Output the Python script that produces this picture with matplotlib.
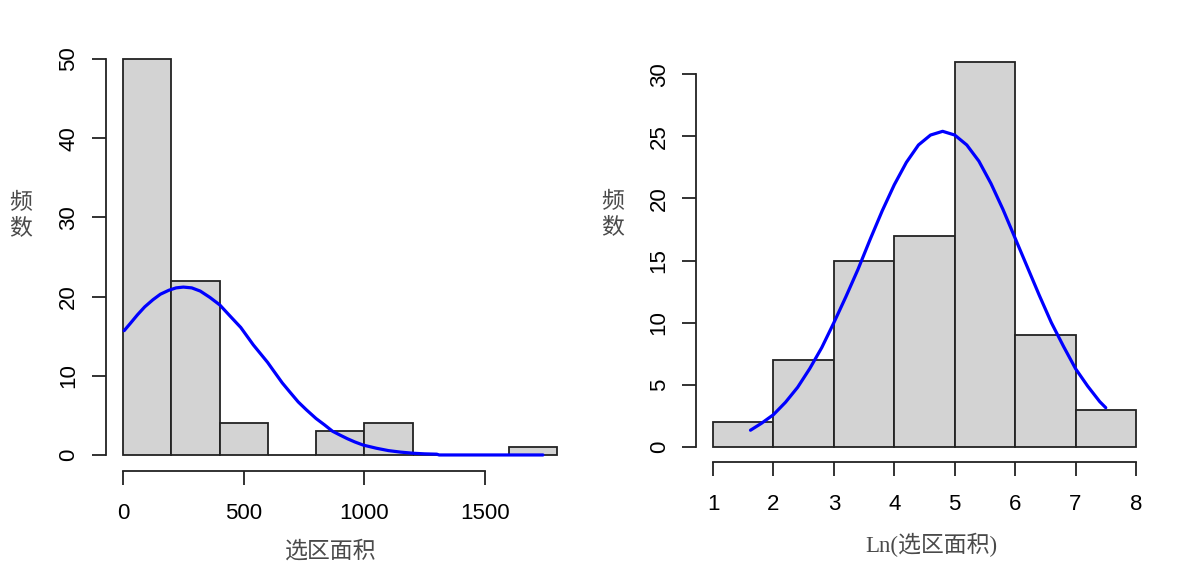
import matplotlib
matplotlib.use("Agg")
import matplotlib.pyplot as plt

plt.rcParams["font.family"] = ["Liberation Sans", "Noto Sans CJK SC"]

# --- left panel: raw area histogram ---
area_edges = [0, 200, 400, 600, 800, 1000, 1200, 1400, 1600, 1800]
area_counts = [50, 22, 4, 0, 3, 4, 0, 0, 1]
area_curve_x = [5, 30, 60, 90, 124, 155, 190, 220, 250, 285, 320, 360, 401,
                445, 488, 540, 599, 620, 660, 690, 726, 760, 800, 835, 868,
                900, 930, 960, 995, 1050, 1100, 1150, 1201, 1250, 1300,
                1310, 1500, 1740]
area_curve_y = [15.7, 16.6, 17.7, 18.7, 19.6, 20.3, 20.8, 21.1, 21.2, 21.1,
                20.7, 19.9, 18.95, 17.5, 16.1, 13.9, 11.7, 10.8, 9.1, 8.0,
                6.7, 5.7, 4.6, 3.8, 3.0, 2.5, 2.05, 1.65, 1.25, 0.85, 0.55,
                0.36, 0.22, 0.14, 0.1, 0.0, 0.0, 0.0]
area_xticks = [0, 500, 1000, 1500]
area_yticks = [0, 10, 20, 30, 40, 50]

# --- right panel: log area histogram ---
ln_edges = [1, 2, 3, 4, 5, 6, 7, 8]
ln_counts = [2, 7, 15, 17, 31, 9, 3]
ln_curve_x = [1.62, 1.8, 2.0, 2.2, 2.4, 2.6, 2.8, 3.0, 3.2, 3.4, 3.6, 3.8,
              4.0, 4.2, 4.4, 4.6, 4.8, 5.0, 5.2, 5.4, 5.6, 5.8, 6.0, 6.2,
              6.4, 6.6, 6.8, 7.0, 7.2, 7.4, 7.5]
ln_curve_y = [1.35, 1.9, 2.6, 3.6, 4.8, 6.3, 8.0, 10.0, 12.1, 14.3, 16.7,
              19.0, 21.1, 22.9, 24.3, 25.1, 25.4, 25.1, 24.3, 23.0, 21.2,
              19.1, 16.8, 14.5, 12.2, 10.0, 8.1, 6.3, 4.9, 3.65, 3.16]
ln_xticks = [1, 2, 3, 4, 5, 6, 7, 8]
ln_yticks = [0, 5, 10, 15, 20, 25, 30]

W, H = 1191, 588
fig = plt.figure(figsize=(W / 100, H / 100), dpi=100)


def r_hist(rect, edges, counts, cx, cy, xticks, yticks, xlim, ylim):
    ax = fig.add_axes(rect)
    widths = [b - a for a, b in zip(edges[:-1], edges[1:])]
    ax.bar(edges[:-1], counts, width=widths, align="edge",
           color="#d3d3d3", edgecolor="#222222", linewidth=1.3, zorder=2)
    ax.plot(cx, cy, color="#0000ff", lw=2.3, solid_capstyle="round",
            solid_joinstyle="round", zorder=3)
    ax.set_xlim(*xlim)
    ax.set_ylim(*ylim)
    for s in ("top", "right"):
        ax.spines[s].set_visible(False)
    ax.spines["left"].set_bounds(yticks[0], yticks[-1])
    ax.spines["bottom"].set_bounds(xticks[0], xticks[-1])
    for s in ("left", "bottom"):
        ax.spines[s].set_linewidth(1.3)
        ax.spines[s].set_color("#222222")
    ax.set_xticks(xticks)
    ax.set_yticks(yticks)
    ax.tick_params(length=10, width=1.3, color="#222222", labelsize=16)
    ax.tick_params(axis="x", pad=13)
    ax.tick_params(axis="y", labelrotation=90, pad=9)
    for lab in ax.get_yticklabels():
        lab.set_va("center")
    return ax


r_hist([105.6 / W, (H - 470.8) / H, 469.2 / W, 427.6 / H],
       area_edges, area_counts, area_curve_x, area_curve_y,
       area_xticks, area_yticks, (-72, 1872), (-2, 52))
r_hist([696.1 / W, (H - 462.4) / H, 456.8 / W, 416.1 / H],
       ln_edges, ln_counts, ln_curve_x, ln_curve_y,
       ln_xticks, ln_yticks, (0.72, 8.28), (-1.24, 32.24))

gray = "#4a4a4a"
cjk = ["Liberation Serif", "Noto Sans CJK SC"]
fig.text(21 / W, 1 - 216 / H, "频\n数", ha="center", va="center",
         fontsize=16.5, color=gray, family=cjk, linespacing=1.2)
fig.text(613 / W, 1 - 215 / H, "频\n数", ha="center", va="center",
         fontsize=16.5, color=gray, family=cjk, linespacing=1.2)
fig.text(331 / W, 1 - 552 / H, "选区面积", ha="center", va="center",
         fontsize=16.5, color=gray, family=cjk)
fig.text(931 / W, 1 - 545 / H, "Ln(选区面积)", ha="center", va="center",
         fontsize=16.5, color=gray, family=cjk)

fig.savefig("out.png", dpi=100)
